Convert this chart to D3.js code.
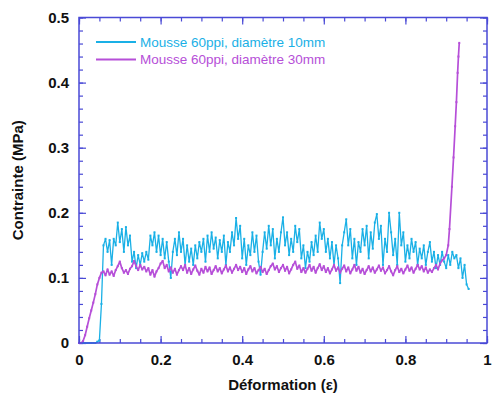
<!DOCTYPE html>
<html><head><meta charset="utf-8">
<script src="https://cdn.jsdelivr.net/npm/d3@7"></script>
<style>body{margin:0;background:#fff}svg{display:block}</style>
</head><body>
<script>
// ---- data ----
const seriesNames = ["Mousse 60ppi, diamètre 10mm", "Mousse 60ppi, diamètre 30mm"];
const xTickLabels = ["0", "0.2", "0.4", "0.6", "0.8", "1"];
const yTickLabels = ["0", "0.1", "0.2", "0.3", "0.4", "0.5"];
const sampleStep = 0.005; // strain sampling step of the uniform part of both series
const blueStress = [
0,0,0,0,0,0,0,0,0,0.002,
0.004,0.06,0.15,0.16,0.14,0.158,0.12,0.16,0.15,0.185,
0.155,0.175,0.14,0.178,0.15,0.165,0.125,0.14,0.115,0.135,
0.12,0.138,0.125,0.14,0.128,0.165,0.15,0.17,0.14,0.165,
0.135,0.16,0.13,0.155,0.125,0.1,0.14,0.16,0.135,0.17,
0.14,0.16,0.12,0.15,0.125,0.145,0.12,0.15,0.13,0.155,
0.14,0.16,0.125,0.165,0.14,0.17,0.145,0.162,0.13,0.158,
0.14,0.165,0.12,0.155,0.14,0.17,0.15,0.192,0.16,0.18,
0.13,0.16,0.12,0.15,0.135,0.17,0.14,0.165,0.125,0.105,
0.14,0.17,0.145,0.18,0.15,0.175,0.13,0.16,0.14,0.17,
0.193,0.15,0.17,0.135,0.16,0.14,0.18,0.155,0.175,0.13,
0.15,0.115,0.14,0.125,0.155,0.135,0.165,0.14,0.185,0.16,
0.175,0.14,0.16,0.13,0.155,0.12,0.15,0.13,0.092,0.15,
0.17,0.19,0.15,0.175,0.13,0.16,0.12,0.155,0.14,0.175,
0.15,0.18,0.13,0.17,0.145,0.185,0.198,0.16,0.18,0.12,
0.16,0.14,0.2,0.17,0.135,0.16,0.12,0.2,0.15,0.17,
0.125,0.15,0.13,0.16,0.14,0.155,0.12,0.145,0.13,0.15,
0.12,0.14,0.155,0.125,0.14,0.115,0.135,0.12,0.14,0.125,
0.115,0.135,0.12,0.14,0.13,0.135,0.115,0.13,0.1,0.12,
0.09,0.083
];
const purpleStress = [
0,0,0.003,0.012,0.025,0.038,0.05,0.062,0.075,0.09,
0.1,0.108,0.11,0.104,0.113,0.105,0.11,0.103,0.112,0.118,
0.125,0.115,0.108,0.112,0.106,0.114,0.118,0.126,0.118,0.112,
0.12,0.113,0.117,0.11,0.115,0.105,0.112,0.102,0.11,0.115,
0.122,0.126,0.115,0.12,0.11,0.116,0.108,0.114,0.105,0.112,
0.118,0.112,0.12,0.108,0.115,0.106,0.113,0.119,0.111,0.105,
0.114,0.108,0.117,0.11,0.116,0.106,0.112,0.118,0.11,0.115,
0.107,0.113,0.119,0.11,0.116,0.108,0.114,0.12,0.112,0.117,
0.109,0.115,0.106,0.113,0.118,0.11,0.115,0.107,0.112,0.117,
0.109,0.114,0.106,0.112,0.118,0.122,0.113,0.118,0.109,0.115,
0.12,0.111,0.117,0.107,0.113,0.12,0.125,0.114,0.119,0.109,
0.115,0.108,0.114,0.12,0.111,0.117,0.108,0.115,0.121,0.112,
0.118,0.109,0.115,0.107,0.113,0.12,0.111,0.116,0.108,0.114,
0.119,0.11,0.116,0.107,0.113,0.12,0.111,0.117,0.108,0.114,
0.106,0.112,0.118,0.11,0.116,0.108,0.113,0.119,0.111,0.116,
0.107,0.112,0.118,0.11,0.104,0.112,0.118,0.109,0.114,0.107,
0.113,0.119,0.111,0.116,0.108,0.114,0.12,0.113,0.118,0.11,
0.116,0.108,0.113,0.109,0.115,0.12,0.113,0.122,0.127,0.13,
0.135
];
// purple densification tail (irregular strain spacing)
const purpleTailStrain = [0.905, 0.908, 0.914, 0.918, 0.922, 0.925, 0.928, 0.930, 0.932];
const purpleTailStress = [0.15, 0.175, 0.24, 0.285, 0.333, 0.37, 0.415, 0.44, 0.461];
const colors = ["#1ab0e6", "#b64fd8"];

// ---- build ----
const W = 492, H = 401;
const m = {l: 79, r: 5, t: 17.5, b: 58};
const svg = d3.select("body").append("svg").attr("width", W).attr("height", H);
const x = d3.scaleLinear().domain([0, 1]).range([m.l, W - m.r]);
const y = d3.scaleLinear().domain([0, 0.5]).range([H - m.b, m.t]);

const blue = blueStress.map((v, i) => [i * sampleStep, v]);
const purple = purpleStress.map((v, i) => [i * sampleStep, v])
  .concat(purpleTailStrain.map((s, i) => [s, purpleTailStress[i]]));

const axisColor = "#4a4ad6";
const g = svg.append("g");

// ticks (inward, all four sides)
function drawTicks(axisGen, transform) {
  const a = g.append("g").attr("transform", transform).call(axisGen);
  a.select(".domain").remove();
  a.selectAll("line").attr("stroke", axisColor).attr("stroke-width", 1.2);
  a.selectAll("text").remove();
}
const xMinor = d3.range(0, 1.0001, 0.05);
const xMajor = xTickLabels.map(Number);
const yMinor = d3.range(0, 0.5001, 0.02);
const yMajor = yTickLabels.map(Number);
drawTicks(d3.axisBottom(x).tickValues(xMinor).tickSize(-4), `translate(0,${y(0)})`);
drawTicks(d3.axisBottom(x).tickValues(xMajor).tickSize(-7), `translate(0,${y(0)})`);
drawTicks(d3.axisTop(x).tickValues(xMinor).tickSize(-4), `translate(0,${y(0.5)})`);
drawTicks(d3.axisTop(x).tickValues(xMajor).tickSize(-7), `translate(0,${y(0.5)})`);
drawTicks(d3.axisLeft(y).tickValues(yMinor).tickSize(-4), `translate(${x(0)},0)`);
drawTicks(d3.axisLeft(y).tickValues(yMajor).tickSize(-7), `translate(${x(0)},0)`);
drawTicks(d3.axisRight(y).tickValues(yMinor).tickSize(-4), `translate(${x(1)},0)`);
drawTicks(d3.axisRight(y).tickValues(yMajor).tickSize(-7), `translate(${x(1)},0)`);

// tick labels
const xl = g.append("g").attr("transform", `translate(0,${y(0)})`)
  .call(d3.axisBottom(x).tickValues(xMajor).tickFormat((d, i) => xTickLabels[i]).tickSize(0).tickPadding(11));
xl.select(".domain").remove();
xl.selectAll("text").attr("font-family", "Liberation Sans, Arial, sans-serif")
  .attr("font-weight", "bold").attr("font-size", 15).attr("fill", "#111");
const yl = g.append("g").attr("transform", `translate(${x(0)},0)`)
  .call(d3.axisLeft(y).tickValues(yMajor).tickFormat((d, i) => yTickLabels[i]).tickSize(0).tickPadding(10));
yl.select(".domain").remove();
yl.selectAll("text").attr("font-family", "Liberation Sans, Arial, sans-serif")
  .attr("font-weight", "bold").attr("font-size", 15).attr("fill", "#111");

// series
const line = d3.line().x(d => x(d[0])).y(d => y(d[1]));
[blue, purple].forEach((data, k) => {
  svg.append("path").datum(data).attr("d", line).attr("fill", "none")
    .attr("stroke", colors[k]).attr("stroke-width", k === 1 ? 1.7 : 1.3).attr("stroke-linejoin", "round");
  svg.append("g").selectAll("rect").data(data).join("rect")
    .attr("x", d => x(d[0]) - 1).attr("y", d => y(d[1]) - 1)
    .attr("width", 2).attr("height", 2).attr("fill", colors[k]);
});

// frame
svg.append("rect").attr("x", x(0)).attr("y", y(0.5))
  .attr("width", x(1) - x(0)).attr("height", y(0) - y(0.5))
  .attr("fill", "none").attr("stroke", axisColor).attr("stroke-width", 1.5);

// axis titles
svg.append("text").attr("x", (x(0) + x(1)) / 2).attr("y", 390)
  .attr("text-anchor", "middle").attr("font-family", "Liberation Sans, Arial, sans-serif")
  .attr("font-weight", "bold").attr("font-size", 15).attr("fill", "#111")
  .text("Déformation (ε)");
svg.append("text").attr("transform", `translate(23,${(y(0) + y(0.5)) / 2}) rotate(-90)`)
  .attr("text-anchor", "middle").attr("font-family", "Liberation Sans, Arial, sans-serif")
  .attr("font-weight", "bold").attr("font-size", 15).attr("fill", "#111")
  .text("Contrainte (MPa)");

// legend
seriesNames.forEach((name, k) => {
  const ly = 42 + k * 17.5;
  svg.append("line").attr("x1", 96).attr("x2", 136).attr("y1", ly).attr("y2", ly)
    .attr("stroke", colors[k]).attr("stroke-width", 2);
  svg.append("text").attr("x", 140).attr("y", ly + 4.5)
    .attr("font-family", "Liberation Sans, Arial, sans-serif").attr("font-size", 13.5)
    .attr("fill", colors[k]).text(name);
});
</script>
</body></html>
